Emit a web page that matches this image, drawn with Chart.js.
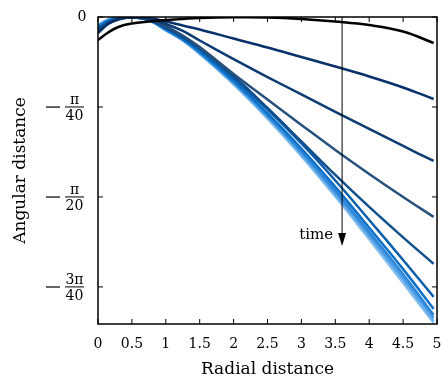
<!DOCTYPE html>
<html>
<head>
<meta charset="utf-8">
<script src="https://cdn.jsdelivr.net/npm/chart.js@4"></script>
<style>
html, body { margin: 0; padding: 0; background: #fff; }
</style>
</head>
<body>
<canvas id="myChart" width="443" height="381"></canvas>
<script>
// Distancia radial (eje x) comun a todas las curvas
var radial = [0, 0.15, 0.3, 0.5, 0.75, 1, 1.25, 1.5, 2, 2.5, 3, 3.5, 4, 4.5, 4.95];

// Distancia angular (radianes)
var curva0 = [-0.0201, -0.0135, -0.0087, -0.0057, -0.0039, -0.0026, -0.0017, -0.0009, -0.0003, -0.0004, -0.0017, -0.0039, -0.0070, -0.0127, -0.0227];
var curva1 = [-0.0140, -0.0061, -0.0022, -0.0003, -0.0009, -0.0039, -0.0074, -0.0109, -0.0188, -0.0266, -0.0349, -0.0432, -0.0519, -0.0615, -0.0716];
var curva2 = [-0.0131, -0.0057, -0.0017, -0.0003, -0.0017, -0.0061, -0.0122, -0.0205, -0.0367, -0.0524, -0.0676, -0.0829, -0.0977, -0.1126, -0.1257];
var curva3 = [-0.0122, -0.0052, -0.0016, -0.0003, -0.0022, -0.0079, -0.0161, -0.0262, -0.0497, -0.0720, -0.0942, -0.1161, -0.1370, -0.1571, -0.1745];
var curva4 = [-0.0113, -0.0048, -0.0013, -0.0002, -0.0022, -0.0092, -0.0175, -0.0271, -0.0515, -0.0794, -0.1086, -0.1379, -0.1658, -0.1924, -0.2155];
var curva5 = [-0.0105, -0.0044, -0.0011, -0.0002, -0.0026, -0.0096, -0.0183, -0.0284, -0.0532, -0.0807, -0.1104, -0.1427, -0.1772, -0.2121, -0.2443];
var curva6 = [-0.0091, -0.0035, -0.0009, -0.0001, -0.0026, -0.0105, -0.0192, -0.0299, -0.0555, -0.0839, -0.1148, -0.1483, -0.1840, -0.2201, -0.2548];
var curva7 = [-0.0083, -0.0030, -0.0007, -0.0001, -0.0026, -0.0110, -0.0197, -0.0308, -0.0567, -0.0856, -0.1172, -0.1514, -0.1876, -0.2245, -0.2601];
var curva8 = [-0.0078, -0.0027, -0.0006, 0, -0.0026, -0.0113, -0.0200, -0.0314, -0.0575, -0.0868, -0.1189, -0.1535, -0.1902, -0.2276, -0.2627];
var curva9 = [-0.0074, -0.0024, -0.0005, 0, -0.0026, -0.0115, -0.0202, -0.0319, -0.0581, -0.0877, -0.1201, -0.1551, -0.1921, -0.2298, -0.2653];
var curva10 = [-0.0070, -0.0022, -0.0004, 0, -0.0026, -0.0118, -0.0205, -0.0323, -0.0588, -0.0887, -0.1214, -0.1567, -0.1941, -0.2322, -0.2670];

var curvas = [curva0, curva1, curva2, curva3, curva4, curva5, curva6, curva7, curva8, curva9, curva10];
var colores = ['#000000', '#08306b', '#0b3b70', '#27517c', '#114f8c', '#0a5eab', '#0c70c8', '#2a86d8', '#4b9be2', '#6aafe9', '#89c2f0'];

// Marcas del eje y (multiplos de pi/40) y sus etiquetas
var yTicks = [0, -Math.PI / 40, -Math.PI / 20, -3 * Math.PI / 40];
var yEtiquetas = ['0', '−π/40', '−π/20', '−3π/40'];

// Flecha de "time"
var flechaX = 3.6;
var flechaY0 = 0;
var flechaY1 = -0.2;
var flechaTexto = 'time';

var fuente = 'DejaVu Serif';

var datasets = [];
for (var k = 0; k < curvas.length; k++) {
  datasets.push({
    data: radial.map(function (x, i) { return { x: x, y: curvas[k][i] }; }),
    borderColor: colores[k],
    borderWidth: 2.5,
    pointRadius: 0,
    fill: false,
    tension: 0.4
  });
}

// Marco, marcas hacia dentro, etiquetas del eje y y la flecha
var marcoPlugin = {
  id: 'marco',
  afterDatasetsDraw: function (chart) {
    var ctx = chart.ctx;
    var a = chart.chartArea;
    var xs = chart.scales.x;
    var ys = chart.scales.y;
    ctx.save();
    ctx.strokeStyle = '#000';
    ctx.lineWidth = 1.5;
    ctx.strokeRect(a.left, a.top, a.right - a.left, a.bottom - a.top);

    ctx.lineWidth = 1;
    xs.ticks.forEach(function (t) {
      var px = xs.getPixelForValue(t.value);
      ctx.beginPath();
      ctx.moveTo(px, a.bottom); ctx.lineTo(px, a.bottom - 5);
      ctx.moveTo(px, a.top); ctx.lineTo(px, a.top + 5);
      ctx.stroke();
    });
    for (var i = 0; i < yTicks.length; i++) {
      var py = ys.getPixelForValue(yTicks[i]);
      ctx.beginPath();
      ctx.moveTo(a.left, py); ctx.lineTo(a.left + 5, py);
      ctx.moveTo(a.right, py); ctx.lineTo(a.right - 5, py);
      ctx.stroke();
    }

    // etiquetas tipo fraccion
    ctx.fillStyle = '#000';
    ctx.textAlign = 'center';
    for (var j = 0; j < yEtiquetas.length; j++) {
      var y = ys.getPixelForValue(yTicks[j]);
      var et = yEtiquetas[j];
      if (et.indexOf('/') < 0) {
        ctx.font = '14px "' + fuente + '"';
        ctx.textBaseline = 'middle';
        ctx.fillText(et, 82, y);
        continue;
      }
      var partes = et.slice(1).split('/');
      ctx.fillRect(46, y - 0.5, 14, 1.2);
      ctx.fillRect(65, y - 0.5, 19, 1);
      ctx.font = '14px "' + fuente + '"';
      ctx.textBaseline = 'alphabetic';
      ctx.fillText(partes[0], 74.5, y - 3);
      ctx.textBaseline = 'top';
      ctx.fillText(partes[1], 74.5, y + 2);
    }

    // flecha
    var fx = xs.getPixelForValue(flechaX);
    var fy0 = ys.getPixelForValue(flechaY0);
    var fy1 = ys.getPixelForValue(flechaY1);
    ctx.lineWidth = 1;
    ctx.beginPath();
    ctx.moveTo(fx, fy0); ctx.lineTo(fx, fy1 - 10);
    ctx.stroke();
    ctx.beginPath();
    ctx.moveTo(fx - 4, fy1 - 13);
    ctx.lineTo(fx + 4, fy1 - 13);
    ctx.lineTo(fx, fy1);
    ctx.closePath();
    ctx.fill();
    ctx.font = '15px "' + fuente + '"';
    ctx.textAlign = 'right';
    ctx.textBaseline = 'middle';
    ctx.fillText(flechaTexto, fx - 9, fy1 - 11);
    ctx.restore();
  }
};

var ctx = document.getElementById('myChart').getContext('2d');
var myChart = new Chart(ctx, {
  type: 'line',
  data: { datasets: datasets },
  options: {
    responsive: false,
    animation: false,
    layout: { padding: { top: 17, right: 6, left: 0, bottom: 0 } },
    plugins: { legend: { display: false }, tooltip: { enabled: false } },
    scales: {
      x: {
        type: 'linear',
        min: 0,
        max: 5,
        afterFit: function (s) { s.height = 57; s.paddingLeft = 0; s.paddingRight = 0; },
        ticks: {
          stepSize: 0.5, color: '#000', padding: 12, maxRotation: 0,
          font: { family: fuente, size: 14 },
          callback: function (v) { return String(v); }
        },
        grid: { display: false, drawTicks: false },
        border: { display: false },
        title: { display: true, text: 'Radial distance', color: '#000', padding: { top: 0, bottom: 1 }, font: { family: fuente, size: 17 } }
      },
      y: {
        type: 'linear',
        min: -0.268,
        max: 0,
        afterFit: function (s) { s.width = 98; s.paddingTop = 0; s.paddingBottom = 0; },
        ticks: { display: false },
        grid: { display: false, drawTicks: false },
        border: { display: false },
        title: { display: true, text: 'Angular distance', color: '#000', padding: { top: 10, bottom: 0 }, font: { family: fuente, size: 17 } }
      }
    }
  },
  plugins: [marcoPlugin]
});
</script>
</body>
</html>
